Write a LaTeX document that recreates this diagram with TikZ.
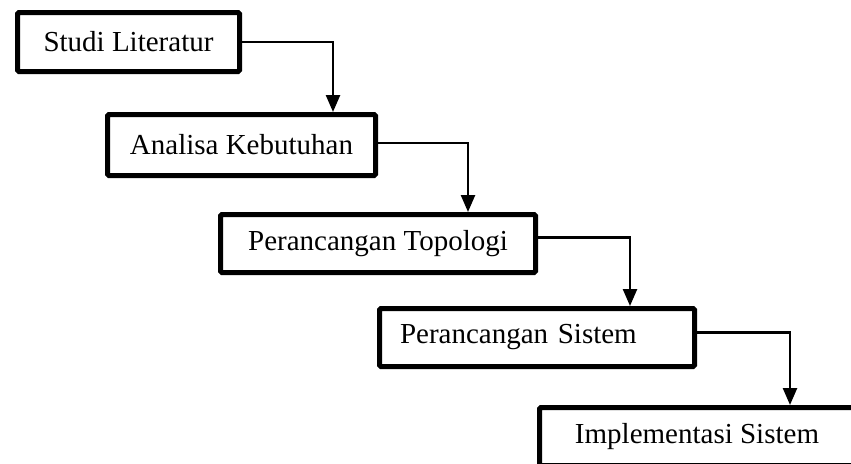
\documentclass[tikz,border=0pt]{standalone}
\usepackage{fontspec}
\setmainfont{Liberation Serif}
\usetikzlibrary{arrows.meta, positioning, calc}

\begin{document}
\begin{tikzpicture}[x=1pt, y=-1pt,
        stagebox/.style={draw, line width=5pt, rounded corners=1.5pt, minimum height=58pt,
            inner sep=0pt, font=\fontsize{29}{34}\selectfont},
        flow/.style={line width=2.5pt, -{Triangle[width=14pt, length=17pt]}}]
        % Canvas
        \useasboundingbox (0,0) rectangle (851,463);
        \clip (0,0) rectangle (851,463);

        % Stages
        \node[stagebox, minimum width=222pt, minimum height=59pt] (literatur) at (128.5,42) {Studi Literatur};
        \node[stagebox, minimum width=268pt, minimum height=61pt] (analisa) at (241.5,145) {Analisa Kebutuhan};
        \node[stagebox, minimum width=315pt] (topologi) at (378,243.5) {Perancangan Topologi};
        \node[stagebox, text width=274pt, inner xsep=20.5pt, align=left] (sistem) at (537,337.5) {Perancangan Sistem};
        \node[stagebox, minimum width=315pt] (implementasi) at (697,436.5) {Implementasi Sistem};

        % Flow arrows
        \draw[flow] (literatur.east) -| ([xshift=91.5pt]analisa.north);
        \draw[flow] ([yshift=2pt]analisa.east) -| ([xshift=90pt]topologi.north);
        \draw[flow] ([yshift=6pt]topologi.east) -| ([xshift=93pt]sistem.north);
        \draw[flow] ([yshift=5pt]sistem.east) -| ([xshift=93pt]implementasi.north);
\end{tikzpicture}
\end{document}
